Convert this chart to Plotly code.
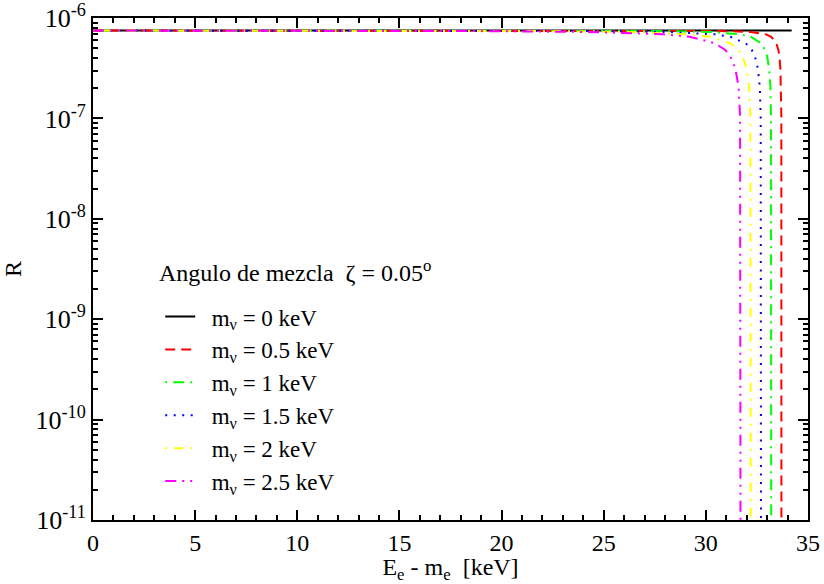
import plotly.graph_objects as go

# Ratio R versus kinetic energy E_e - m_e, one curve per neutrino mass
x_m0 = [0.0, 34.2]
y_m0 = [7.5e-7, 7.5e-7]

x_m05 = [0.0, 30.2, 31.2, 32.2, 32.7, 32.95, 33.2, 33.45, 33.55, 33.6, 33.65, 33.68, 33.695, 33.7]
y_m05 = [7.5e-7, 7.44e-7, 7.4e-7, 7.26e-7, 7.07e-7, 6.87e-7, 6.5e-7, 5.6e-7, 4.8e-7, 4.15e-7, 3.1e-7, 2.06e-7, 1.05e-7, 1e-12]

x_m1 = [0.0, 26.2, 28.2, 30.2, 31.2, 31.7, 32.2, 32.7, 32.9, 33.0, 33.1, 33.16, 33.19, 33.2]
y_m1 = [7.5e-7, 7.44e-7, 7.4e-7, 7.26e-7, 7.07e-7, 6.87e-7, 6.5e-7, 5.6e-7, 4.8e-7, 4.15e-7, 3.1e-7, 2.06e-7, 1.05e-7, 1e-12]

x_m15 = [0.0, 22.2, 25.2, 28.2, 29.7, 30.45, 31.2, 31.95, 32.25, 32.4, 32.55, 32.64, 32.685, 32.7]
y_m15 = [7.5e-7, 7.44e-7, 7.4e-7, 7.26e-7, 7.07e-7, 6.87e-7, 6.5e-7, 5.6e-7, 4.8e-7, 4.15e-7, 3.1e-7, 2.06e-7, 1.05e-7, 1e-12]

x_m2 = [0.0, 18.2, 22.2, 26.2, 28.2, 29.2, 30.2, 31.2, 31.6, 31.8, 32.0, 32.12, 32.18, 32.2]
y_m2 = [7.5e-7, 7.44e-7, 7.4e-7, 7.26e-7, 7.07e-7, 6.87e-7, 6.5e-7, 5.6e-7, 4.8e-7, 4.15e-7, 3.1e-7, 2.06e-7, 1.05e-7, 1e-12]

x_m25 = [0.0, 14.2, 19.2, 24.2, 26.7, 27.95, 29.2, 30.45, 30.95, 31.2, 31.45, 31.6, 31.675, 31.7]
y_m25 = [7.5e-7, 7.44e-7, 7.4e-7, 7.26e-7, 7.07e-7, 6.87e-7, 6.5e-7, 5.6e-7, 4.8e-7, 4.15e-7, 3.1e-7, 2.06e-7, 1.05e-7, 1e-12]

labels = ["0", "0.5", "1", "1.5", "2", "2.5"]
colors = ["#000000", "#ff0000", "#00ff00", "#0000ff", "#ffff00", "#ff00ff"]
dashes = ["solid", "10px,6px", "2px,6px,11px,6px", "2px,6.5px", "2px,7px,9px,7px", "11px,6px,2px,6px,2px,6px"]
series = [(x_m0, y_m0), (x_m05, y_m05), (x_m1, y_m1), (x_m15, y_m15), (x_m2, y_m2), (x_m25, y_m25)]

y_tickvals = [1e-11, 1e-10, 1e-9, 1e-8, 1e-7, 1e-6]
y_ticktext = ["10<sup>-11</sup>", "10<sup>-10</sup>", "10<sup>-9</sup>", "10<sup>-8</sup>", "10<sup>-7</sup>", "10<sup>-6</sup>"]
x_tickvals = [0, 5, 10, 15, 20, 25, 30, 35]

FONT = "Liberation Serif, Times New Roman, Times, serif"
NBSP = "\u00a0"

fig = go.Figure()
for i, ((xs, ys), lab, col, dsh) in enumerate(zip(series, labels, colors, dashes)):
    fig.add_trace(go.Scatter(
        x=xs, y=ys, mode="lines",
        name=f"{NBSP * 2}m<sub>\u03bd</sub> = {lab} keV",
        legendgroup=f"g{i}",
        line=dict(color=col, width=2, dash=dsh),
    ))

fig.update_layout(
    width=824, height=584,
    margin=dict(l=93, r=16, t=18, b=64),
    paper_bgcolor="white", plot_bgcolor="white",
    font=dict(family=FONT, size=24, color="black"),
    showlegend=True,
    legend=dict(
        x=0.094, y=0.448, xanchor="left", yanchor="top",
        bgcolor="rgba(0,0,0,0)", borderwidth=0,
        font=dict(family=FONT, size=23),
        traceorder="grouped", tracegroupgap=0,
    ),
    annotations=[dict(
        x=0.09, y=0.462, xref="paper", yref="paper", xanchor="left", yanchor="bottom",
        text="Angulo de mezcla  \u03b6 = 0.05<sup>o</sup>", showarrow=False,
        font=dict(family=FONT, size=24),
    )],
)

fig.update_xaxes(
    range=[0, 35], tickvals=x_tickvals, automargin=False,
    ticks="inside", ticklen=10, tickwidth=1.5, tickcolor="black",
    minor=dict(ticks="inside", ticklen=5, dtick=1, tickcolor="black", tickwidth=1.5),
    showline=True, linecolor="black", linewidth=2, mirror="allticks",
    showgrid=False, zeroline=False,
    tickfont=dict(family=FONT, size=24),
    title=dict(text="E<sub>e</sub> - m<sub>e</sub>  [keV]", font=dict(family=FONT, size=24), standoff=2),
)

fig.update_yaxes(
    type="log", range=[-11, -6], automargin=False,
    tickvals=y_tickvals, ticktext=y_ticktext,
    ticks="inside", ticklen=10, tickwidth=1.5, tickcolor="black",
    minor=dict(ticks="inside", ticklen=5, dtick="D1", tickcolor="black", tickwidth=1.5),
    showline=True, linecolor="black", linewidth=2, mirror="allticks",
    showgrid=False, zeroline=False,
    tickfont=dict(family=FONT, size=26),
    title=dict(text="R", font=dict(family=FONT, size=24), standoff=14),
)

fig.write_html("out.html")
